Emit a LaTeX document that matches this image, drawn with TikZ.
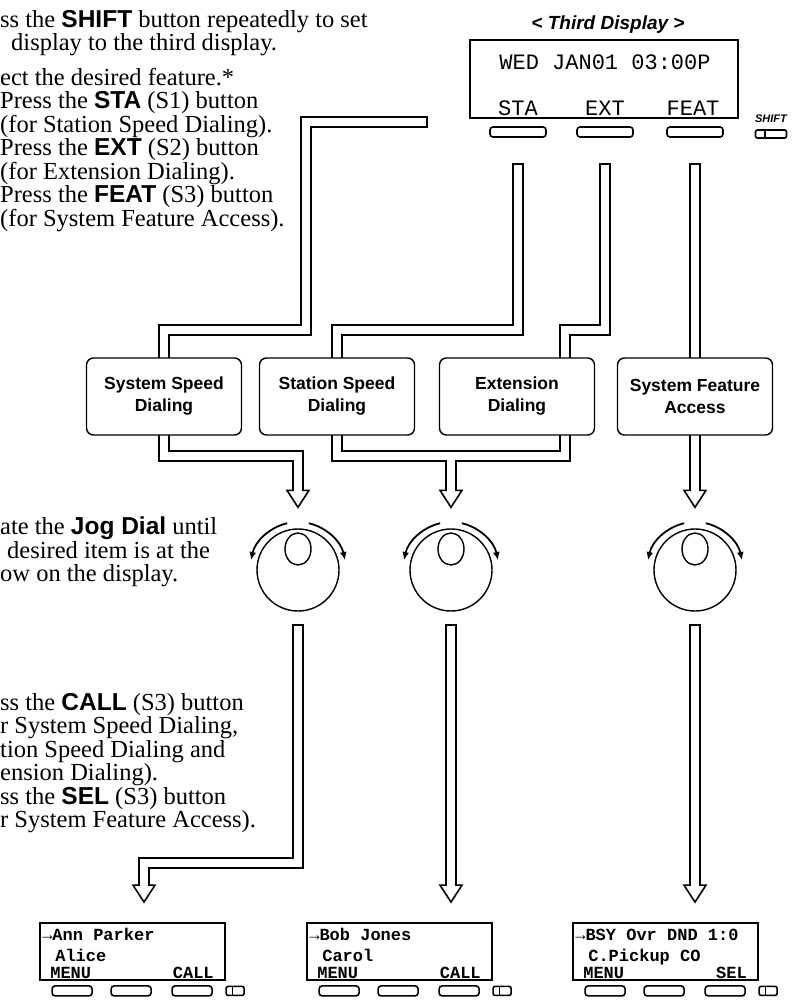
\documentclass[tikz,border=0pt]{standalone}
\usepackage{fontspec}
\setmainfont{Liberation Serif}
\setsansfont{Liberation Sans}
\setmonofont{Liberation Mono}
\usepackage{tikz}
\usetikzlibrary{positioning,calc,arrows.meta,backgrounds}
\newcommand{\btnname}[1]{{\sffamily\bfseries #1}}
\tikzset{
  manual/.style={anchor=north west, align=left, inner sep=0pt, font=\fontsize{24.5}{23.5}\selectfont},
  featbox/.style={draw, rounded corners=7pt, line width=1.4pt, fill=white, minimum width=155pt, minimum height=77pt, align=center, inner sep=0pt, font=\sffamily\bfseries\fontsize{17.5}{22}\selectfont},
  lcd/.style={draw, line width=1.8pt, fill=white, inner sep=0pt},
  bigdot/.style={inner sep=0pt, anchor=base, font=\ttfamily\fontsize{22}{22}\selectfont},
  smalldot/.style={inner sep=0pt, anchor=base west, font=\ttfamily\bfseries\fontsize{17}{17}\selectfont},
  softkey/.style={draw, rounded corners=3pt, line width=1.6pt, minimum width=#1, minimum height=10pt, inner sep=0pt},
  softkey/.default=56pt,
  pipe/.style={line width=12pt, postaction={draw=white, line width=8.4pt, shorten <=1.8pt}},
  jog/.style={draw, circle, line width=1.4pt, minimum size=82pt, inner sep=0pt},
  turn/.style={line width=1.8pt, -{Latex[length=8pt,width=7pt]}},
  pics/hollowhead/.style={code={
    \draw[line width=1.6pt, fill=white] (-11pt,0pt) -- (0pt,-17pt) -- (11pt,0pt) -- cycle;
    \fill[white] (-4.2pt,1.2pt) rectangle (4.2pt,-1.2pt);
  }}
}

\begin{document}
\begin{tikzpicture}[x=1pt, y=-1pt]
  \useasboundingbox (0,0) rectangle (800,1007);

  % steps on the left
  \node[manual] (stepShift) at (0,10) {ss the \btnname{SHIFT} button repeatedly to set\\\hspace*{11pt}display to the third display.};
  \node[manual] (stepSelect) at (0,68) {ect the desired feature.*\\Press the \btnname{STA} (S1) button\\(for Station Speed Dialing).\\Press the \btnname{EXT} (S2) button\\(for Extension Dialing).\\Press the \btnname{FEAT} (S3) button\\(for System Feature Access).};
  \node[manual] (stepJog) at (0,517) {ate the \btnname{Jog Dial} until\\\hspace*{7pt}desired item is at the\\ow on the display.};
  \node[manual] (stepCall) at (0,693) {ss the \btnname{CALL} (S3) button\\r System Speed Dialing,\\tion Speed Dialing and\\ension Dialing).\\ss the \btnname{SEL} (S3) button\\r System Feature Access).};

  % third display
  \node[font=\sffamily\bfseries\itshape\fontsize{19}{19}\selectfont, inner sep=0pt] (thirdTitle) at (608,25) {< Third Display >};
  \node[lcd, minimum width=268pt, minimum height=78pt] (third) at (604,79) {};
  \node[bigdot] (thirdDate) at (605,69) {WED JAN01 03:00P};
  \node[bigdot] (lblSTA) at (518,115) {STA};
  \node[bigdot] (lblEXT) at (605,115) {EXT};
  \node[bigdot] (lblFEAT) at (693,115) {FEAT};
  \node[softkey] (btnSTA) at (518,132) {};
  \node[softkey] (btnEXT) at (605,132) {};
  \node[softkey] (btnFEAT) at (695,132) {};
  \node[font=\sffamily\bfseries\itshape\fontsize{11}{11}\selectfont, inner sep=0pt] (shiftLbl) at (771,119) {SHIFT};
  \node[softkey=31pt, minimum height=8pt, rounded corners=2pt] (shiftKey) at (771,134) {};
  \draw[line width=1.2pt] ([xshift=-6pt]shiftKey.north) -- ([xshift=-6pt]shiftKey.south);

  % features
  \node[featbox] (sysSpeed) at (164,396.5) {System Speed\\Dialing};
  \node[featbox] (staSpeed) at (337,396.5) {Station Speed\\Dialing};
  \node[featbox] (extDial) at (517,396.5) {Extension\\Dialing};
  \node[featbox] (sysFeat) at (695,396.5) {System Feature\\Access};

  % jog dials
  \node[jog] (jogA) at (298,570) {};
  \node[jog] (jogB) at (451,570) {};
  \node[jog] (jogC) at (695,570) {};
  \foreach \j in {jogA,jogB,jogC}{
    \draw[line width=1.4pt] ([yshift=21pt]\j.center) ellipse [x radius=13pt, y radius=16pt];
    \draw[turn] ([shift={(103:48pt)}]\j.center) arc[start angle=103, end angle=168, radius=48pt];
    \draw[turn] ([shift={(77:48pt)}]\j.center) arc[start angle=77, end angle=12, radius=48pt];
  }

  % result displays
  \foreach \disp/\cx/\rowa/\rowb/\softlbl in {dispA/132.5/{→Ann Parker}/{Alice}/CALL, dispB/399.5/{→Bob Jones}/{Carol}/CALL, dispC/665.5/{→BSY Ovr DND 1:0}/{C.Pickup CO}/SEL}{
    \node[lcd, minimum width=185pt, minimum height=57pt] (\disp) at (\cx,951.5) {};
    \node[smalldot] (\disp-r1) at ($(\disp.north west)+(3,18)$) {\rowa};
    \node[smalldot] (\disp-r2) at ($(\disp.north west)+(16,39)$) {\rowb};
    \node[smalldot] (\disp-menu) at ($(\disp.north west)+(11,56)$) {MENU};
    \node[smalldot, anchor=base east] (\disp-soft) at ($(\disp.north east)+(-12,56)$) {\softlbl};
    \node[softkey=40pt] (\disp-k1) at ($(\disp.south west)+(33,10)$) {};
    \node[softkey=40pt] (\disp-k2) at ($(\disp.south west)+(92,10)$) {};
    \node[softkey=40pt] (\disp-k3) at ($(\disp.south west)+(153,10)$) {};
    \node[softkey=18pt, minimum height=9pt, rounded corners=2pt] (\disp-k4) at ($(\disp.south west)+(196,10)$) {};
    \draw[line width=1.2pt] ([xshift=-3pt]\disp-k4.north) -- ([xshift=-3pt]\disp-k4.south);
  }

  % pipes
  \coordinate (ssdSrc) at (428,122);
  \coordinate (ssdTurn) at (306,122);
  \coordinate (bend) at (0,330);
  \coordinate (join) at (0,456);
  \coordinate (lowBend) at (0,863);
  \coordinate (extDrop) at ([xshift=48pt]extDial.center);
  \coordinate (headA) at ([yshift=38pt]jogA.north);
  \coordinate (headB) at ([yshift=38pt]jogB.north);
  \coordinate (headC) at ([yshift=38pt]jogC.north);
  \coordinate (dropA) at ([xshift=11.5pt,yshift=37pt]dispA.north);
  \coordinate (dropB) at (jogB.south |- dropA);
  \coordinate (dropC) at (jogC.south |- dropA);
  \begin{scope}[on background layer]
    \draw[pipe] (ssdSrc) -- (ssdTurn) |- (sysSpeed.north |- bend) -- (sysSpeed.center);
    \draw[pipe] ([yshift=-25pt]btnSTA.south) |- (staSpeed.north |- bend) -- (staSpeed.center);
    \draw[pipe] ([yshift=-25pt]btnEXT.south) |- (extDrop |- bend) -- (extDrop);
    \draw[pipe] ([yshift=-25pt]btnFEAT.south) -- (sysFeat.center);
    \draw[pipe] (sysSpeed.center) |- (jogA |- join) -- (headA);
    \draw[pipe] (staSpeed.center) |- (jogB |- join) -- (headB) (extDrop) |- (jogB |- join);
    \draw[pipe] (sysFeat.center) -- (headC);
    \draw[pipe] ([yshift=-12pt]jogA.south) |- (dropA |- lowBend) -- (dropA);
    \draw[pipe] ([yshift=-12pt]jogB.south) -- (dropB);
    \draw[pipe] ([yshift=-12pt]jogC.south) -- (dropC);
  \end{scope}
  \foreach \h in {headA,headB,headC,dropA,dropB,dropC}
    \pic at (\h) {hollowhead};
\end{tikzpicture}
\end{document}
